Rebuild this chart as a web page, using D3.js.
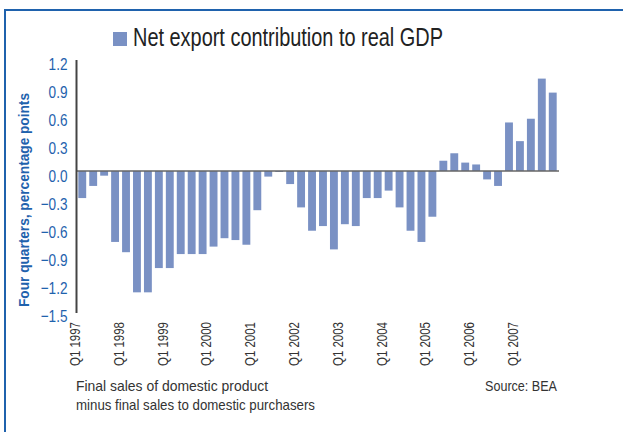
<!DOCTYPE html>
<html><head><meta charset="utf-8">
<script src="https://cdn.jsdelivr.net/npm/d3@7"></script>
<style>
html,body{margin:0;padding:0;background:#fff;}
svg{display:block;}
text{font-family:"Liberation Sans",Arial,sans-serif;}
</style></head>
<body>
<script>
const years = ["1997","1998","1999","2000","2001","2002","2003","2004","2005","2006","2007"];
const quarters = ["Q1","Q2","Q3","Q4"];
const categories = years.flatMap(y => quarters.map(q => q + " " + y));
const netExport = [
  -0.29, -0.16, -0.05, -0.76,
  -0.87, -1.30, -1.30, -1.04,
  -1.04, -0.89, -0.89, -0.89,
  -0.81, -0.72, -0.74, -0.79,
  -0.42, -0.06, -0.01, -0.14,
  -0.39, -0.64, -0.59, -0.84,
  -0.57, -0.59, -0.29, -0.29,
  -0.21, -0.39, -0.64, -0.76,
  -0.49, 0.11, 0.19, 0.09,
  0.07, -0.09, -0.16, 0.52,
  0.32, 0.56, 0.99, 0.84
];
const yTicks = [1.2, 0.9, 0.6, 0.3, 0.0, -0.3, -0.6, -0.9, -1.2, -1.5];
const seriesName = "Net export contribution to real GDP";
const yTitle = "Four quarters, percentage points";
const note1 = "Final sales of domestic product";
const note2 = "minus final sales to domestic purchasers";
const source = "Source: BEA";

const W = 623, H = 432;
const blue = "#1f62ad", barColor = "#7a91c4";
const svg = d3.select("body").append("svg").attr("width", W).attr("height", H);

// condense text horizontally (narrow typeface look)
function condense(sel, factor) {
  sel.each(function () {
    const w = this.getComputedTextLength();
    d3.select(this).attr("textLength", w * factor).attr("lengthAdjust", "spacingAndGlyphs");
  });
}

// frame
svg.append("line").attr("x1", 5).attr("x2", 5).attr("y1", 9).attr("y2", H)
  .attr("stroke", blue).attr("stroke-width", 2);
svg.append("line").attr("x1", 4).attr("x2", W).attr("y1", 10).attr("y2", 10)
  .attr("stroke", blue).attr("stroke-width", 2);

const x = d3.scaleBand().domain(categories).range([77, 558]).paddingInner(0.28).paddingOuter(0.12);
const y = d3.scaleLinear().domain([-1.5, 1.2]).range([311, 59]);

// bars
svg.append("g").selectAll("rect").data(netExport).join("rect")
  .attr("x", (d, i) => x(categories[i]))
  .attr("width", x.bandwidth())
  .attr("y", d => y(Math.max(0, d)))
  .attr("height", d => Math.abs(y(d) - y(0)))
  .attr("fill", barColor);

// zero line
svg.append("line").attr("x1", 76).attr("x2", 559).attr("y1", y(0)).attr("y2", y(0))
  .attr("stroke", "#666").attr("stroke-width", 1.5);

// y axis
const yAxis = d3.axisLeft(y).tickValues(yTicks).tickSize(0).tickPadding(9)
  .tickFormat(d3.format(".1f"));
const gy = svg.append("g").attr("transform", "translate(76.5,0)").call(yAxis);
gy.select(".domain").remove();
gy.selectAll("text").attr("fill", blue).attr("font-size", 17).attr("dy", "0.6em")
  .style("font-family", '"Liberation Sans",Arial,sans-serif')
  .call(condense, 0.8);
svg.append("line").attr("x1", 76.5).attr("x2", 76.5).attr("y1", 60).attr("y2", 313)
  .attr("stroke", "#444").attr("stroke-width", 2);

// x labels
const xAxis = d3.axisBottom(x).tickValues(categories.filter(c => c.startsWith("Q1"))).tickSize(0).tickPadding(0);
const gx = svg.append("g").attr("transform", "translate(0,322)").call(xAxis);
gx.select(".domain").remove();
gx.selectAll("text")
  .attr("transform", "rotate(-90)")
  .attr("text-anchor", "end")
  .attr("x", 0).attr("y", 0).attr("dx", 0).attr("dy", "-0.15em")
  .attr("fill", "#333").attr("font-size", 14)
  .style("font-family", '"Liberation Sans",Arial,sans-serif')
  .call(condense, 0.82);

// legend / title
svg.append("rect").attr("x", 113).attr("y", 32).attr("width", 14).attr("height", 14).attr("fill", barColor);
svg.append("text").attr("x", 133).attr("y", 46).attr("font-size", 25).attr("fill", "#222")
  .attr("textLength", 310).attr("lengthAdjust", "spacingAndGlyphs").text(seriesName);

// y title
svg.append("text").attr("transform", "translate(29,200) rotate(-90)")
  .attr("text-anchor", "middle").attr("font-size", 15).attr("font-weight", "bold")
  .attr("fill", blue).attr("textLength", 214).attr("lengthAdjust", "spacingAndGlyphs").text(yTitle);

// notes
svg.append("text").attr("x", 76).attr("y", 391).attr("font-size", 14.5).attr("fill", "#333")
  .attr("textLength", 192).attr("lengthAdjust", "spacingAndGlyphs").text(note1);
svg.append("text").attr("x", 76).attr("y", 410).attr("font-size", 14.5).attr("fill", "#333")
  .attr("textLength", 239).attr("lengthAdjust", "spacingAndGlyphs").text(note2);
svg.append("text").attr("x", 557).attr("y", 391).attr("text-anchor", "end").attr("font-size", 14.5).attr("fill", "#333")
  .attr("textLength", 72).attr("lengthAdjust", "spacingAndGlyphs").text(source);
</script>
</body></html>
